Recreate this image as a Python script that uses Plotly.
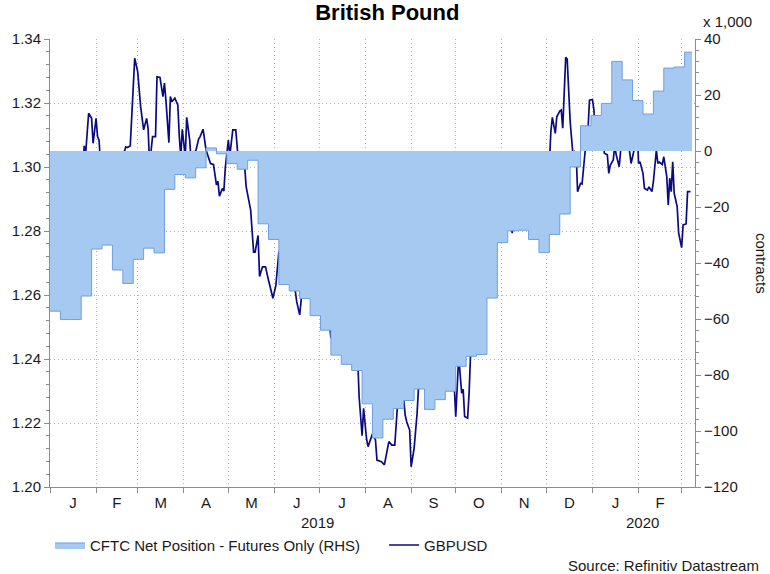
import pandas as pd
import plotly.graph_objects as go

# GBPUSD spot (left axis)
gbp_dates = [
    "2019-01-01", "2019-01-03", "2019-01-04", "2019-01-06", "2019-01-08", "2019-01-09",
    "2019-01-12", "2019-01-13", "2019-01-15", "2019-01-18", "2019-01-20", "2019-01-21",
    "2019-01-23", "2019-01-24", "2019-01-25", "2019-01-27", "2019-01-29", "2019-01-30",
    "2019-02-01", "2019-02-02", "2019-02-03", "2019-02-05", "2019-02-07", "2019-02-09",
    "2019-02-11", "2019-02-12", "2019-02-13", "2019-02-15", "2019-02-17", "2019-02-19",
    "2019-02-21", "2019-02-22", "2019-02-24", "2019-02-26", "2019-02-27", "2019-03-01",
    "2019-03-03", "2019-03-05", "2019-03-07", "2019-03-08", "2019-03-09", "2019-03-11",
    "2019-03-13", "2019-03-14", "2019-03-16", "2019-03-18", "2019-03-19", "2019-03-20",
    "2019-03-22", "2019-03-23", "2019-03-24", "2019-03-26", "2019-03-28", "2019-03-29",
    "2019-03-30", "2019-03-31", "2019-04-02", "2019-04-03", "2019-04-05", "2019-04-06",
    "2019-04-08", "2019-04-09", "2019-04-11", "2019-04-12", "2019-04-14", "2019-04-16",
    "2019-04-19", "2019-04-21", "2019-04-23", "2019-04-24", "2019-04-25", "2019-04-27",
    "2019-04-28", "2019-04-29", "2019-05-01", "2019-05-02", "2019-05-04", "2019-05-06",
    "2019-05-08", "2019-05-10", "2019-05-12", "2019-05-13", "2019-05-16", "2019-05-18",
    "2019-05-19", "2019-05-21", "2019-05-22", "2019-05-24", "2019-05-26", "2019-05-28",
    "2019-05-31", "2019-06-02", "2019-06-04", "2019-06-06", "2019-06-07", "2019-06-09",
    "2019-06-11", "2019-06-12", "2019-06-14", "2019-06-16", "2019-06-18", "2019-06-19",
    "2019-06-20", "2019-06-22", "2019-06-24", "2019-06-25", "2019-06-27", "2019-06-28",
    "2019-06-30", "2019-07-01", "2019-07-03", "2019-07-05", "2019-07-06", "2019-07-08",
    "2019-07-09", "2019-07-10", "2019-07-12", "2019-07-13", "2019-07-15", "2019-07-16",
    "2019-07-18", "2019-07-19", "2019-07-20", "2019-07-22", "2019-07-23", "2019-07-25",
    "2019-07-27", "2019-07-28", "2019-07-30", "2019-07-31", "2019-08-02", "2019-08-03",
    "2019-08-06", "2019-08-08", "2019-08-09", "2019-08-12", "2019-08-14", "2019-08-17",
    "2019-08-19", "2019-08-21", "2019-08-23", "2019-08-24", "2019-08-27", "2019-08-28",
    "2019-08-29", "2019-08-31", "2019-09-01", "2019-09-03", "2019-09-05", "2019-09-06",
    "2019-09-07", "2019-09-09", "2019-09-11", "2019-09-12", "2019-09-14", "2019-09-15",
    "2019-09-17", "2019-09-18", "2019-09-21", "2019-09-22", "2019-09-24", "2019-09-25",
    "2019-09-26", "2019-09-28", "2019-09-30", "2019-10-01", "2019-10-03", "2019-10-05",
    "2019-10-06", "2019-10-07", "2019-10-09", "2019-10-10", "2019-10-11", "2019-10-12",
    "2019-10-13", "2019-10-15", "2019-10-16", "2019-10-18", "2019-10-20", "2019-10-21",
    "2019-10-24", "2019-10-26", "2019-10-27", "2019-10-29", "2019-10-30", "2019-10-31",
    "2019-11-02", "2019-11-04", "2019-11-05", "2019-11-07", "2019-11-08", "2019-11-10",
    "2019-11-12", "2019-11-14", "2019-11-15", "2019-11-17", "2019-11-19", "2019-11-20",
    "2019-11-22", "2019-11-24", "2019-11-25", "2019-11-27", "2019-11-29", "2019-11-30",
    "2019-12-01", "2019-12-03", "2019-12-04", "2019-12-05", "2019-12-07", "2019-12-08",
    "2019-12-10", "2019-12-11", "2019-12-12", "2019-12-14", "2019-12-15", "2019-12-17",
    "2019-12-18", "2019-12-19", "2019-12-20", "2019-12-21", "2019-12-22", "2019-12-24",
    "2019-12-25", "2019-12-27", "2019-12-28", "2019-12-29", "2019-12-30", "2020-01-01",
    "2020-01-02", "2020-01-03", "2020-01-04", "2020-01-06", "2020-01-08", "2020-01-09",
    "2020-01-11", "2020-01-12", "2020-01-13", "2020-01-15", "2020-01-16", "2020-01-17",
    "2020-01-19", "2020-01-20", "2020-01-21", "2020-01-23", "2020-01-25", "2020-01-26",
    "2020-01-27", "2020-01-29", "2020-01-30", "2020-01-31", "2020-02-01", "2020-02-02",
    "2020-02-04", "2020-02-05", "2020-02-07", "2020-02-08", "2020-02-10", "2020-02-11",
    "2020-02-13", "2020-02-14", "2020-02-15", "2020-02-17", "2020-02-18", "2020-02-20",
    "2020-02-21", "2020-02-22", "2020-02-23", "2020-02-24", "2020-02-25", "2020-02-27",
    "2020-02-28", "2020-03-01", "2020-03-02", "2020-03-04", "2020-03-05", "2020-03-07",
]
gbp_values = [
    1.2767, 1.2626, 1.2603, 1.2772, 1.2735, 1.2746,
    1.2813, 1.2913, 1.2813, 1.2907, 1.2907, 1.2892,
    1.2959, 1.3066, 1.3043, 1.3168, 1.3152, 1.3074,
    1.3152, 1.3095, 1.3084, 1.2938, 1.2975, 1.2949,
    1.2866, 1.2881, 1.2871, 1.2780, 1.2897, 1.3032,
    1.3063, 1.3061, 1.3066, 1.3262, 1.3340, 1.3298,
    1.3188, 1.3116, 1.3152, 1.3121, 1.3006, 1.3095,
    1.3095, 1.3282, 1.3280, 1.3220, 1.3262, 1.3209,
    1.3076, 1.3220, 1.3204, 1.3215, 1.3194, 1.3095,
    1.3032, 1.3118, 1.3032, 1.3155, 1.3084, 1.3013,
    1.3048, 1.3048, 1.3087, 1.3095, 1.3118, 1.3053,
    1.3011, 1.3008, 1.2944, 1.2955, 1.2909, 1.2933,
    1.2925, 1.3000, 1.3084, 1.3036, 1.3116, 1.3116,
    1.3005, 1.3033, 1.3001, 1.2938, 1.2866, 1.2734,
    1.2734, 1.2786, 1.2658, 1.2688, 1.2688, 1.2647,
    1.2590, 1.2631, 1.2735, 1.2720, 1.2759, 1.2699,
    1.2725, 1.2720, 1.2647, 1.2579, 1.2538, 1.2584,
    1.2699, 1.2699, 1.2725, 1.2704, 1.2676, 1.2678,
    1.2725, 1.2610, 1.2569, 1.2571, 1.2511, 1.2514,
    1.2465, 1.2506, 1.2553, 1.2558, 1.2480, 1.2423,
    1.2423, 1.2496, 1.2501, 1.2433, 1.2496, 1.2493,
    1.2407, 1.2282, 1.2160, 1.2246, 1.2150, 1.2126,
    1.2166, 1.2147, 1.2084, 1.2079, 1.2069, 1.2142,
    1.2131, 1.2131, 1.2267, 1.2277, 1.2274, 1.2225,
    1.2204, 1.2178, 1.2063, 1.2121, 1.2230, 1.2314,
    1.2324, 1.2350, 1.2340, 1.2329, 1.2459, 1.2418,
    1.2485, 1.2485, 1.2501, 1.2430, 1.2480, 1.2428,
    1.2340, 1.2314, 1.2319, 1.2220, 1.2407, 1.2293,
    1.2305, 1.2220, 1.2215, 1.2293, 1.2418, 1.2683,
    1.2584, 1.2777, 1.2803, 1.2892, 1.2982, 1.2918,
    1.2876, 1.2834, 1.2868, 1.2902, 1.2871, 1.2944,
    1.2949, 1.2902, 1.2868, 1.2834, 1.2793, 1.2871,
    1.2840, 1.2850, 1.2887, 1.2965, 1.2935, 1.2918,
    1.2834, 1.2907, 1.2840, 1.2876, 1.2907, 1.2937,
    1.2930, 1.3006, 1.3110, 1.3155, 1.3105, 1.3157,
    1.3175, 1.3178, 1.3121, 1.3343, 1.3337, 1.3142,
    1.3084, 1.3032, 1.3048, 1.3045, 1.2923, 1.2949,
    1.2947, 1.3043, 1.3095, 1.3116, 1.3209, 1.3211,
    1.3178, 1.3069, 1.3157, 1.3121, 1.3095, 1.3043,
    1.3038, 1.2980, 1.3006, 1.3022, 1.3066, 1.3038,
    1.3001, 1.3053, 1.3061, 1.3058, 1.3066, 1.3048,
    1.3011, 1.3053, 1.3095, 1.3152, 1.3011, 1.3016,
    1.2980, 1.2933, 1.2928, 1.2938, 1.2923, 1.2954,
    1.3053, 1.3011, 1.3015, 1.3008, 1.3032, 1.2970,
    1.2881, 1.2965, 1.2923, 1.3016, 1.2918, 1.2876,
    1.2793, 1.2748, 1.2819, 1.2822, 1.2923, 1.2923,
]

# CFTC net position, weekly (thousands of contracts, right axis)
cftc_dates = pd.date_range("2019-01-01", "2020-03-03", freq="7D")
cftc_values = [
    -57.2, -60.2, -60.2, -51.8, -35.0, -33.6, -42.5, -47.3, -38.7, -34.7,
    -36.4, -13.7, -8.4, -9.6, -6.0, 1.1, -1.0, -4.5, -6.5, -3.3,
    -26.0, -31.6, -47.7, -50.0, -52.7, -58.8, -64.0, -72.9, -76.2, -78.4,
    -90.3, -102.5, -95.8, -92.0, -89.1, -85.0, -92.3, -88.8, -85.8, -76.9,
    -73.3, -72.7, -52.5, -32.7, -28.5, -28.3, -31.6, -36.3, -29.8, -22.5,
    -5.7, 9.0, 12.7, 17.0, 32.0, 25.4, 18.0, 13.2, 21.4, 29.6,
    30.0, 35.3,
]
cftc_end = "2020-03-08"

month_labels = ["J", "F", "M", "A", "M", "J", "J", "A", "S", "O", "N", "D", "J", "F"]
month_starts = pd.date_range("2019-01-01", "2020-03-01", freq="MS")
month_mids = [a + (b - a) / 2 for a, b in zip(month_starts[:-1], month_starts[1:])]

FONT = "Liberation Sans, Arial, sans-serif"
GRID = "#b4b4b4"
AXIS = "#8c8c8c"
DOTS = "1px,3px"

fig = go.Figure()

fig.add_trace(go.Scatter(
    x=list(cftc_dates) + [pd.Timestamp(cftc_end)],
    y=cftc_values + [cftc_values[-1]],
    name="CFTC Net Position - Futures Only (RHS)",
    mode="lines", line=dict(shape="hv", color="#6f9fdc", width=1),
    fill="tozeroy", fillcolor="#a6c9f1",
    yaxis="y2", legend="legend",
))
fig.add_trace(go.Scatter(
    x=gbp_dates, y=gbp_values, name="GBPUSD",
    mode="lines", line=dict(color="#0a0a82", width=1.7),
    legend="legend2",
))

legend_style = dict(orientation="h", xanchor="left", y=-0.13, yanchor="middle",
                    font=dict(family=FONT, size=15), bgcolor="rgba(0,0,0,0)")

fig.update_layout(
    width=770, height=574,
    margin=dict(l=45, r=75, t=39, b=87),
    paper_bgcolor="white", plot_bgcolor="white",
    font=dict(family=FONT, size=15, color="#1a1a1a"),
    title=dict(text="<b>British Pound</b>", x=0.523, xref="paper", xanchor="center",
               y=0.978, yref="container", yanchor="middle",
               font=dict(family=FONT, size=22, color="black")),
    showlegend=True,
    legend=dict(x=0.0, **legend_style),
    legend2=dict(x=0.518, **legend_style),
    xaxis=dict(
        type="date", range=["2019-01-01", "2020-03-10"],
        tickmode="array", tickvals=month_mids, ticktext=month_labels,
        ticks="outside", ticklen=2, tickcolor="rgba(0,0,0,0)",
        showgrid=False, zeroline=False,
        showline=True, linecolor=AXIS, linewidth=1,
        minor=dict(tick0="2019-01-01", dtick="M1", ticks="outside", ticklen=5,
                   tickcolor=AXIS, showgrid=True, gridcolor=GRID, griddash=DOTS),
    ),
    yaxis=dict(
        range=[1.20, 1.34], dtick=0.02, tickformat=".2f",
        ticks="outside", ticklen=5, tickcolor=AXIS,
        showgrid=True, gridcolor=GRID, griddash=DOTS, zeroline=False,
        showline=True, linecolor=AXIS, linewidth=1,
        minor=dict(dtick=0.004, ticks="outside", ticklen=3, tickcolor=AXIS, showgrid=False),
    ),
    yaxis2=dict(
        range=[-120, 40], dtick=20, overlaying="y", side="right",
        ticks="outside", ticklen=5, tickcolor=AXIS,
        showgrid=False, zeroline=False,
        showline=True, linecolor=AXIS, linewidth=1,
        minor=dict(dtick=4, ticks="outside", ticklen=3, tickcolor=AXIS),
    ),
)

fig.add_annotation(text="x 1,000", xref="paper", yref="paper", x=1.01, y=1.038,
                   xanchor="left", yanchor="middle", showarrow=False)
fig.add_annotation(text="contracts", xref="paper", yref="paper", x=1.104, y=0.5,
                   textangle=90, xanchor="center", yanchor="middle", showarrow=False)
fig.add_annotation(text="2019", x="2019-06-30", xref="x", yref="paper", y=-0.080,
                   yanchor="middle", showarrow=False)
fig.add_annotation(text="2020", x="2020-02-04", xref="x", yref="paper", y=-0.080,
                   yanchor="middle", showarrow=False)
fig.add_annotation(text="Source: Refinitiv Datastream", xref="paper", yref="paper",
                   x=1.103, y=-0.176, xanchor="right", yanchor="middle", showarrow=False)

# the page body has an 8px default margin; drop it so the figure sits at the corner
fig.write_html("out.html", config={"displayModeBar": False},
               post_script="document.body.style.margin='0';")
